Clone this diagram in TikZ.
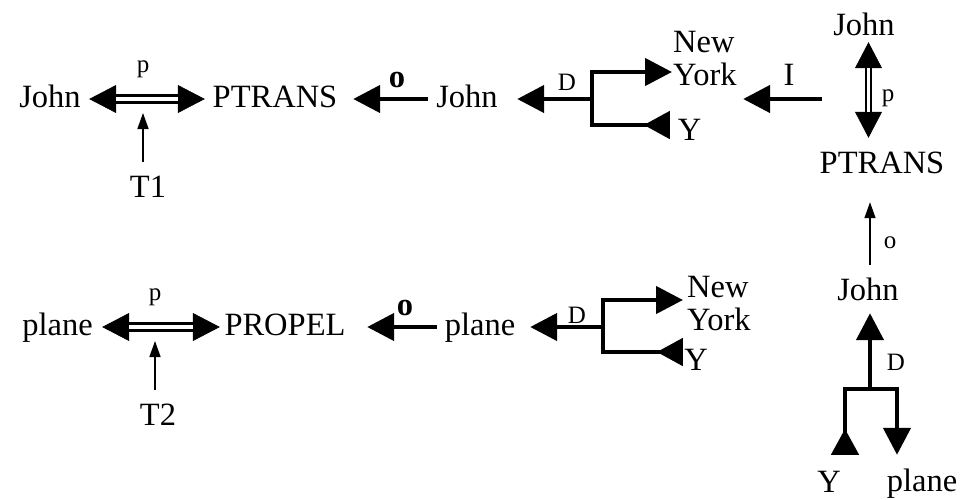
\documentclass[tikz,border=0pt]{standalone}
\usepackage{fontspec}
\setmainfont{Liberation Serif}
\usetikzlibrary{arrows.meta}
\begin{document}
\begin{tikzpicture}[x=1pt, y=-1pt,
  txt/.style={inner sep=0pt, text height=22pt, text depth=6pt,
              font=\fontsize{32.5}{39}\selectfont},
  lab/.style={inner sep=0pt, anchor=base, font=\fontsize{25}{30}\selectfont},
  biglab/.style={inner sep=0pt, anchor=base, font=\fontsize{32.5}{39}\selectfont},
  boldlab/.style={inner sep=0pt, anchor=base, font=\fontsize{32.5}{39}\selectfont\bfseries},
  stack/.style={inner sep=0pt, anchor=north west, align=left,
                font=\fontsize{32.5}{33}\selectfont},
  cdarrow/.style={line width=4.5pt, -{Triangle[length=27pt,width=27pt]}},
  cdrev/.style={line width=4.5pt, -{Triangle[reversed,length=26pt,width=27pt]}},
  hheads/.style={line width=0.6pt,
     {Triangle[length=27pt,width=28pt]}-{Triangle[length=27pt,width=28pt]}},
  vheads/.style={line width=0.6pt,
     {Triangle[length=26pt,width=27pt]}-{Triangle[length=26pt,width=27pt]}},
  hdouble/.style={double, line width=2.5pt, double distance=4.5pt},
  vdouble/.style={double, line width=2pt, double distance=3pt},
  thinlink/.style={line width=1.5pt, -{Triangle[length=16pt,width=11pt]}}
]
\useasboundingbox (0,0) rectangle (978,499);

% ---------- upper conceptualization ----------
\node[txt] (john1)   at (50,99)  {John};
\node[txt] (ptrans1) at (275,99) {PTRANS};
\node[txt] (john2)   at (467,99) {John};
\node[stack] (ny1)   at (673,31.5) {New\\York};
\node[txt] (y1)      at (689.5,132) {Y};
\node[txt] (t1)      at (148,189) {T1};

\draw[hheads, shorten <=8.3pt, shorten >=7.7pt] (john1) -- (ptrans1);
\draw[hdouble, shorten <=35.3pt, shorten >=34.7pt] (john1) -- (ptrans1);
\node[lab] (p1) at (143,72) {p};

\coordinate (m1) at (143,113);
\draw[thinlink, shorten <=13pt] (t1.north -| m1) -- (m1);

\draw[cdarrow, shorten <=8.3pt, shorten >=15.7pt] (john2) -- (ptrans1);
\node[boldlab] (o1) at (397,87) {o};

\coordinate (j1)  at (592,99);
\coordinate (j1t) at (592,72);
\coordinate (j1b) at (592,125);
\draw[cdarrow, shorten >=19.3pt] (j1) -- (john2);
\node[lab] (d1) at (567,90) {D};
\draw[cdarrow, shorten >=1pt] (j1) |- (ny1.west |- j1t);
\draw[cdrev, shorten >=7.8pt] (j1) |- (y1.west |- j1b);

\coordinate (i1) at (822,99);
\draw[cdarrow, shorten >=6.2pt] (i1) -- (i1 -| ny1.east);
\node[biglab] (ilab) at (789,85) {I};

% ---------- instrument ----------
\node[txt] (john3)   at (864,27)  {John};
\node[txt] (ptrans2) at (882,165) {PTRANS};
\node[txt] (john4)   at (868,292) {John};
\node[txt] (y2)      at (829,484) {Y};
\node[txt] (plane3)  at (922,483) {plane};

\draw[vheads, shorten <=1pt, shorten >=13pt]
  ([xshift=4.5pt]john3.south) -- ([xshift=-13.5pt]ptrans2.north);
\draw[vdouble, shorten <=27pt, shorten >=39pt]
  ([xshift=4.5pt]john3.south) -- ([xshift=-13.5pt]ptrans2.north);
\node[lab] (p2) at (888,101) {p};

\draw[thinlink, shorten <=13pt, shorten >=23pt]
  ([xshift=2pt]john4.north) -- ([xshift=-12pt]ptrans2.south);
\node[lab] (o2) at (890,248) {o};

\coordinate (j3)  at (870,389);
\coordinate (j3l) at (845,389);
\coordinate (j3r) at (897,389);
\draw[cdarrow, shorten >=7pt] (j3) -- ([xshift=2pt]john4.south);
\node[lab] (d3) at (896,370) {D};
\draw[cdrev, shorten >=15pt] (j3) -| (j3l |- y2.north);
\draw[cdarrow, shorten >=14pt] (j3) -| (j3r |- plane3.north);

% ---------- lower conceptualization ----------
\node[txt] (plane1) at (57.5,327) {plane};
\node[txt] (propel) at (285,327)  {PROPEL};
\node[txt] (plane2) at (480,327)  {plane};
\node[stack] (ny2)  at (687,276.5) {New\\York};
\node[txt] (y3)     at (696,362)  {Y};
\node[txt] (t2)     at (158,417)  {T2};

\draw[hheads, shorten <=9.3pt, shorten >=4.5pt] (plane1) -- (propel);
\draw[hdouble, shorten <=36.3pt, shorten >=31.5pt] (plane1) -- (propel);
\node[lab] (p3) at (155,300) {p};

\coordinate (m2) at (155,341);
\draw[thinlink, shorten <=13pt] (t2.north -| m2) -- (m2);

\draw[cdarrow, shorten <=7.8pt, shorten >=21.5pt] (plane2) -- (propel);
\node[boldlab] (o3) at (405,315) {o};

\coordinate (j2)  at (603,327);
\coordinate (j2t) at (603,300);
\coordinate (j2b) at (603,352);
\draw[cdarrow, shorten >=14.8pt] (j2) -- (plane2);
\node[lab] (d2) at (577,323) {D};
\draw[cdarrow, shorten >=4pt] (j2) |- (ny2.west |- j2t);
\draw[cdrev, shorten >=1.3pt] (j2) |- (y3.west |- j2b);
\end{tikzpicture}
\end{document}
